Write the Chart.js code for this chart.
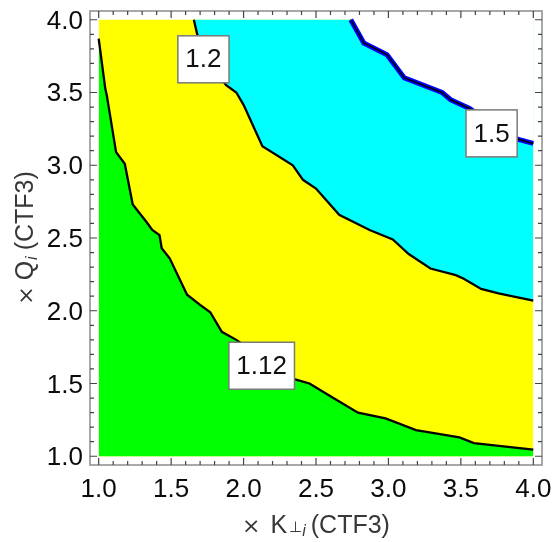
<!DOCTYPE html>
<html>
<head>
<meta charset="utf-8">
<script src="https://cdn.jsdelivr.net/npm/chart.js@4"></script>
<style>
  body { margin: 0; background: #fff; }
</style>
</head>
<body>
<canvas id="contourChart" width="554" height="542"></canvas>
<script>
// contour lines (x = K, y = Q)
const contour112X = [1.0, 1.045, 1.056, 1.12, 1.18, 1.235, 1.33, 1.37, 1.42, 1.435, 1.49, 1.61, 1.70, 1.77, 1.85, 1.95, 2.10, 2.25, 2.35, 2.455, 2.62, 2.79, 2.98, 3.19, 3.49, 3.59, 4.0];
const contour112Y = [3.87, 3.53, 3.48, 3.09, 3.01, 2.73, 2.61, 2.555, 2.52, 2.43, 2.36, 2.11, 2.04, 1.99, 1.855, 1.80, 1.70, 1.60, 1.53, 1.50, 1.40, 1.30, 1.26, 1.18, 1.13, 1.09, 1.045];

const contour12X = [1.657, 1.68, 1.75, 1.84, 1.88, 1.95, 2.0, 2.13, 2.34, 2.41, 2.50, 2.66, 2.87, 3.03, 3.14, 3.29, 3.465, 3.52, 3.64, 3.76, 4.0];
const contour12Y = [4.0, 3.90, 3.75, 3.60, 3.55, 3.50, 3.415, 3.13, 3.0, 2.90, 2.84, 2.66, 2.555, 2.49, 2.39, 2.29, 2.245, 2.22, 2.15, 2.12, 2.07];

const contour15X = [2.74, 2.83, 2.99, 3.11, 3.37, 3.43, 3.56, 3.73, 3.89, 4.0];
const contour15Y = [4.0, 3.84, 3.76, 3.60, 3.50, 3.45, 3.39, 3.27, 3.18, 3.15];

// whole plotted domain (yellow band underneath)
const domainX = [1.0, 4.0];
const domainTop = [4.0, 4.0];

// contour labels
const labelText = ['1.2', '1.5', '1.12'];
const labelX = [1.723, 3.712, 2.125];
const labelY = [3.728, 3.219, 1.622];

// tick labels
const tickValues = [1.0, 1.5, 2.0, 2.5, 3.0, 3.5, 4.0];

const toPoints = (xs, ys) => xs.map((x, i) => ({ x: x, y: ys[i] }));

const FONT = '"Liberation Sans", Arial, sans-serif';

// frame, inward ticks, tick labels, contour labels and axis titles
const framePlugin = {
    id: 'framePlugin',
    afterDatasetsDraw(chart) {
        const ctx = chart.ctx;
        const a = chart.chartArea;
        const xs = chart.scales.x;
        const ys = chart.scales.y;

        // contour labels
        ctx.save();
        ctx.font = '26px ' + FONT;
        ctx.textAlign = 'center';
        ctx.textBaseline = 'middle';
        for (let i = 0; i < labelText.length; i++) {
            const px = xs.getPixelForValue(labelX[i]);
            const py = ys.getPixelForValue(labelY[i]);
            const w = ctx.measureText(labelText[i]).width + 15;
            const h = 47;
            ctx.fillStyle = '#ffffff';
            ctx.fillRect(px - w / 2, py - h / 2, w, h);
            ctx.strokeStyle = '#7a7a7a';
            ctx.lineWidth = 1.5;
            ctx.strokeRect(px - w / 2, py - h / 2, w, h);
            ctx.fillStyle = '#111';
            ctx.fillText(labelText[i], px, py + 1);
        }
        ctx.restore();

        // frame
        ctx.save();
        ctx.strokeStyle = '#8c8c8c';
        ctx.lineWidth = 1.5;
        ctx.strokeRect(a.left, a.top, a.right - a.left, a.bottom - a.top);

        // ticks every 0.1, longer on multiples of 0.5
        ctx.strokeStyle = '#444';
        ctx.lineWidth = 1.2;
        ctx.beginPath();
        for (let k = 10; k <= 40; k++) {
            const v = k / 10;
            const len = (k % 5 === 0) ? 7 : 4;
            const px = xs.getPixelForValue(v);
            const py = ys.getPixelForValue(v);
            ctx.moveTo(px, a.bottom); ctx.lineTo(px, a.bottom - len);
            ctx.moveTo(px, a.top); ctx.lineTo(px, a.top + len);
            ctx.moveTo(a.left, py); ctx.lineTo(a.left + len, py);
            ctx.moveTo(a.right, py); ctx.lineTo(a.right - len, py);
        }
        ctx.stroke();

        // tick labels
        ctx.fillStyle = '#0a0a0a';
        ctx.font = '26px ' + FONT;
        ctx.textBaseline = 'alphabetic';
        ctx.textAlign = 'center';
        tickValues.forEach(v => {
            ctx.fillText(v.toFixed(1), xs.getPixelForValue(v), a.bottom + 32);
        });
        ctx.textAlign = 'right';
        tickValues.forEach(v => {
            ctx.fillText(v.toFixed(1), a.left - 7, ys.getPixelForValue(v) + 9);
        });
        ctx.restore();

        // axis titles
        const cx = (xs.getPixelForValue(1) + xs.getPixelForValue(4)) / 2;
        const cy = (ys.getPixelForValue(1) + ys.getPixelForValue(4)) / 2;
        drawRuns(ctx, [
            { t: '×', size: 22, family: '"DejaVu Sans", sans-serif', gap: 10 },
            { t: 'K', size: 25, gap: 2 },
            { t: '⊥', size: 15, dy: -1 },
            { t: 'i', size: 16, italic: true, dy: 3, gap: 5 },
            { t: '(CTF3)', size: 25 }
        ], cx, 533, 0);
        drawRuns(ctx, [
            { t: '×', size: 22, family: '"DejaVu Sans", sans-serif', gap: 6 },
            { t: 'Q', size: 25, gap: 1 },
            { t: 'i', size: 16, italic: true, dy: 4, gap: 6 },
            { t: '(CTF3)', size: 25 }
        ], 33, cy, -Math.PI / 2);
    }
};

function runFont(r) {
    return (r.italic ? 'italic ' : '') + r.size + 'px ' + (r.family || FONT);
}

function drawRuns(ctx, runs, x, y, angle) {
    ctx.save();
    ctx.translate(x, y);
    ctx.rotate(angle);
    ctx.fillStyle = '#383838';
    ctx.textBaseline = 'alphabetic';
    ctx.textAlign = 'left';
    let total = 0;
    runs.forEach(r => {
        ctx.font = runFont(r);
        r.w = ctx.measureText(r.t).width + (r.gap || 0);
        total += r.w;
    });
    let pos = -total / 2;
    runs.forEach(r => {
        ctx.font = runFont(r);
        ctx.fillText(r.t, pos, r.dy || 0);
        pos += r.w;
    });
    ctx.restore();
}

const ctx = document.getElementById('contourChart').getContext('2d');
const contourChart = new Chart(ctx, {
    type: 'line',
    data: {
        datasets: [
            {
                // 1.5 contour, thin black core
                data: toPoints(contour15X, contour15Y),
                borderColor: '#000000',
                borderWidth: 1.5,
                fill: false
            },
            {
                // 1.5 contour, blue outline, white above
                data: toPoints(contour15X, contour15Y),
                borderColor: '#0000ff',
                borderWidth: 5,
                backgroundColor: '#ffffff',
                fill: 'end'
            },
            {
                data: toPoints(contour12X, contour12Y),
                borderColor: '#000000',
                borderWidth: 2.3,
                backgroundColor: '#00ffff',
                fill: { value: 4 }
            },
            {
                data: toPoints(contour112X, contour112Y),
                borderColor: '#000000',
                borderWidth: 2.3,
                backgroundColor: '#00ff00',
                fill: { value: 1 }
            },
            {
                data: toPoints(domainX, domainTop),
                borderWidth: 0,
                borderColor: 'rgba(0,0,0,0)',
                backgroundColor: '#ffff00',
                fill: { value: 1 }
            }
        ]
    },
    options: {
        responsive: false,
        animation: false,
        elements: {
            point: { radius: 0 },
            line: { tension: 0 }
        },
        layout: {
            autoPadding: false,
            padding: { top: 11, right: 12, left: 0, bottom: 0 }
        },
        plugins: {
            legend: { display: false },
            tooltip: { enabled: false }
        },
        scales: {
            x: {
                type: 'linear',
                min: 0.94,
                max: 4.06,
                grid: { display: false, drawTicks: false },
                border: { display: false },
                afterFit: scale => { scale.height = 77; },
                ticks: { display: false }
            },
            y: {
                type: 'linear',
                min: 0.94,
                max: 4.06,
                grid: { display: false, drawTicks: false },
                border: { display: false },
                afterFit: scale => { scale.width = 90; },
                ticks: { display: false }
            }
        }
    },
    plugins: [framePlugin]
});
</script>
</body>
</html>
